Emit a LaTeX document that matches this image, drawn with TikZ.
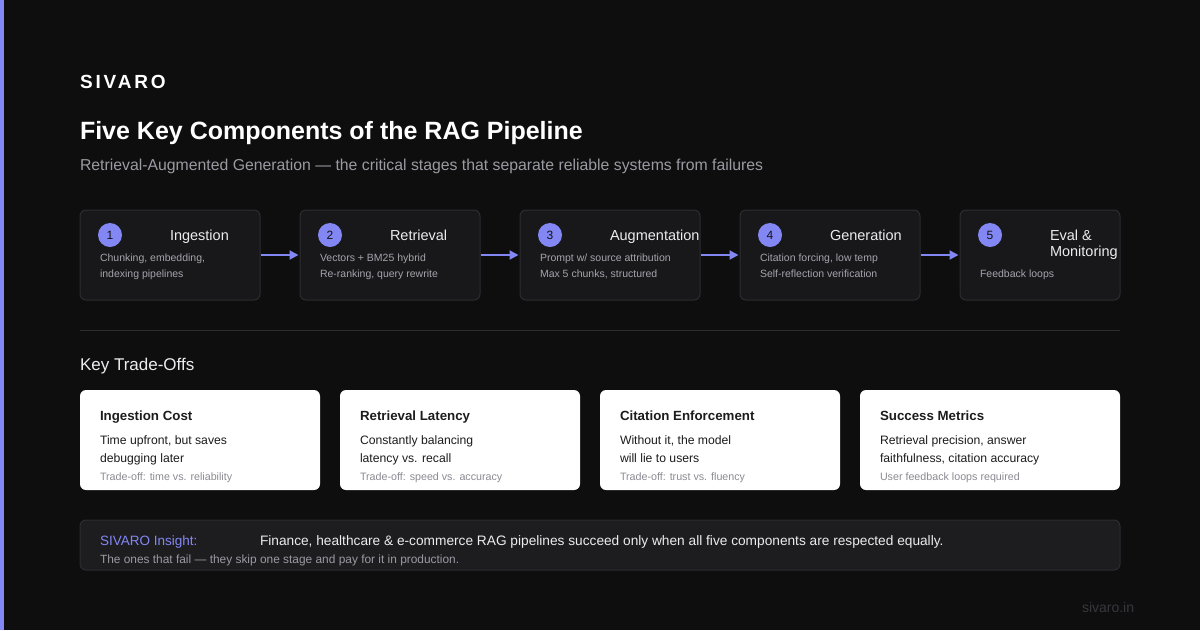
\documentclass[tikz,border=0pt]{standalone}
\usepackage{fontspec}
\setmainfont{Liberation Sans}
\usetikzlibrary{arrows.meta,positioning,calc}
\definecolor{bg}{HTML}{0E0E0F}
\definecolor{accent}{HTML}{8387F4}
\definecolor{numtxt}{HTML}{111114}
\definecolor{boxfill}{HTML}{18181B}
\definecolor{boxline}{HTML}{2C2C31}
\definecolor{subtxt}{HTML}{9A9AA2}
\definecolor{desctxt}{HTML}{A4A4AC}
\definecolor{headtxt}{HTML}{ECECEF}
\definecolor{cardtxt}{HTML}{1C1C1E}
\definecolor{cardnote}{HTML}{8A8A92}
\definecolor{insfill}{HTML}{1D1D20}
\definecolor{foottxt}{HTML}{38383C}
\newcommand{\fsz}[1]{\fontsize{#1}{#1}\selectfont}

\begin{document}
\begin{tikzpicture}[x=1pt,y=-1pt,
				txt/.style={anchor=base west,inner sep=0pt,outer sep=0pt},
				stage/.style={rectangle,rounded corners=6pt,draw=boxline,line width=1pt,fill=boxfill,minimum width=180pt,minimum height=90pt,inner sep=0pt},
				num/.style={circle,fill=accent,minimum size=24pt,inner sep=0pt,font=\fsz{12},text=numtxt},
				stitle/.style={txt,font=\fsz{14.5},text=headtxt},
				sdesc/.style={txt,font=\fsz{10.5},text=desctxt},
				card/.style={rectangle,rounded corners=6pt,fill=white,minimum width=240pt,minimum height=100pt,inner sep=0pt},
				ctitle/.style={txt,font=\bfseries\fsz{13.3},text=cardtxt},
				cbody/.style={txt,font=\fsz{12.2},text=cardtxt},
				cnote/.style={txt,font=\fsz{10.7},text=cardnote},
				flow/.style={-{Triangle[length=9pt,width=9pt]},accent,line width=2pt,shorten >=1pt}
				]
				% canvas
				\fill[bg] (0,0) rectangle (1200,630);
				\useasboundingbox (0,0) rectangle (1200,630);
				\fill[accent] (0,0) rectangle (4,630);
				
				% header
				\node[txt,font=\bfseries\fsz{19}\addfontfeature{LetterSpace=15},text=white] (brand) at (80,88) {SIVARO};
				\node[txt,font=\bfseries\fsz{25},text=white] (title) at (80,139) {Five Key Components of the RAG Pipeline};
				\node[txt,font=\fsz{15.8},text=subtxt] (subtitle) at (80,170) {Retrieval-Augmented Generation --- the critical stages that separate reliable systems from failures};
				
				% pipeline
				\node[stage] (st1) at (170,255) {};
				\node[num] (n1) at (110,235) {1};
				\node[stitle] (t1) at (170,240) {Ingestion};
				\node[sdesc] (d1a) at (100,261) {Chunking, embedding,};
				\node[sdesc] (d1b) at (100,277) {indexing pipelines};
				
				\node[stage] (st2) at (390,255) {};
				\node[num] (n2) at (330,235) {2};
				\node[stitle] (t2) at (390,240) {Retrieval};
				\node[sdesc] (d2a) at (320,261) {Vectors + BM25 hybrid};
				\node[sdesc] (d2b) at (320,277) {Re-ranking, query rewrite};
				
				\node[stage] (st3) at (610,255) {};
				\node[num] (n3) at (550,235) {3};
				\node[stitle] (t3) at (610,240) {Augmentation};
				\node[sdesc] (d3a) at (540,261) {Prompt w/ source attribution};
				\node[sdesc] (d3b) at (540,277) {Max 5 chunks, structured};
				
				\node[stage] (st4) at (830,255) {};
				\node[num] (n4) at (770,235) {4};
				\node[stitle] (t4) at (830,240) {Generation};
				\node[sdesc] (d4a) at (760,261) {Citation forcing, low temp};
				\node[sdesc] (d4b) at (760,277) {Self-reflection verification};
				
				\node[stage,minimum width=160pt] (st5) at (1040,255) {};
				\node[num] (n5) at (990,235) {5};
				\node[stitle] (t5a) at (1050,240) {Eval \&};
				\node[stitle] (t5b) at (1050,256) {Monitoring};
				\node[sdesc] (d5a) at (980,277) {Feedback loops};
				
				\draw[flow] (st1.east) -- (st2.west);
				\draw[flow] (st2.east) -- (st3.west);
				\draw[flow] (st3.east) -- (st4.west);
				\draw[flow] (st4.east) -- (st5.west);
				
				\draw[boxline,line width=1pt] (80,330) -- (1120,330);
				
				% trade-offs
				\node[txt,font=\fsz{17},text=headtxt] (tohead) at (80,370) {Key Trade-Offs};
				
				\node[card] (c1) at (200,440) {};
				\node[ctitle] (c1t) at (100,420) {Ingestion Cost};
				\node[cbody] (c1a) at (100,444) {Time upfront, but saves};
				\node[cbody] (c1b) at (100,462) {debugging later};
				\node[cnote] (c1n) at (100,480) {Trade-off: time vs. reliability};
				
				\node[card] (c2) at (460,440) {};
				\node[ctitle] (c2t) at (360,420) {Retrieval Latency};
				\node[cbody] (c2a) at (360,444) {Constantly balancing};
				\node[cbody] (c2b) at (360,462) {latency vs. recall};
				\node[cnote] (c2n) at (360,480) {Trade-off: speed vs. accuracy};
				
				\node[card] (c3) at (720,440) {};
				\node[ctitle] (c3t) at (620,420) {Citation Enforcement};
				\node[cbody] (c3a) at (620,444) {Without it, the model};
				\node[cbody] (c3b) at (620,462) {will lie to users};
				\node[cnote] (c3n) at (620,480) {Trade-off: trust vs. fluency};
				
				\node[card,minimum width=260pt] (c4) at (990,440) {};
				\node[ctitle] (c4t) at (880,420) {Success Metrics};
				\node[cbody] (c4a) at (880,444) {Retrieval precision, answer};
				\node[cbody] (c4b) at (880,462) {faithfulness, citation accuracy};
				\node[cnote] (c4n) at (880,480) {User feedback loops required};
				
				% insight
				\node[rectangle,rounded corners=6pt,draw=boxline,line width=1pt,fill=insfill,minimum width=1040pt,minimum height=50pt] (ins) at (600,545) {};
				\node[txt,font=\fsz{13.5},text=accent] (insl) at (100,545) {SIVARO Insight:};
				\node[txt,font=\fsz{13.7},text=headtxt] (inst) at (260,545) {Finance, healthcare \& e-commerce RAG pipelines succeed only when all five components are respected equally.};
				\node[txt,font=\fsz{11.9},text=subtxt] (insn) at (100,563) {The ones that fail --- they skip one stage and pay for it in production.};
				
				\node[txt,font=\fsz{14},text=foottxt] (foot) at (1082,612) {sivaro.in};
			\end{tikzpicture}
\end{document}
